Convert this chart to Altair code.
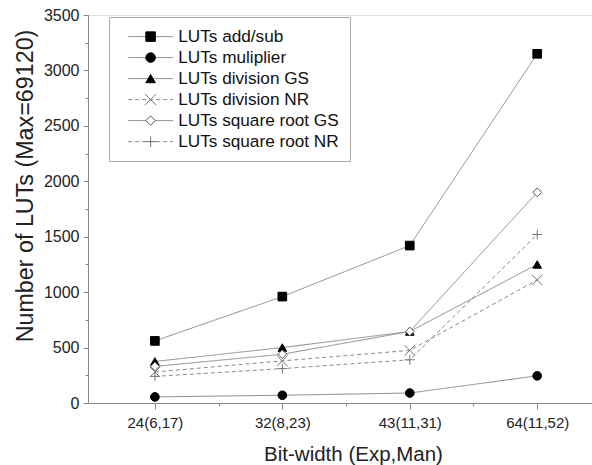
import json
import altair as alt
import pandas as pd

categories = ["24(6,17)", "32(8,23)", "43(11,31)", "64(11,52)"]
series_names = [
    "LUTs add/sub",
    "LUTs muliplier",
    "LUTs division GS",
    "LUTs division NR",
    "LUTs square root GS",
    "LUTs square root NR",
]
add_sub = [560, 960, 1420, 3150]
multiplier = [55, 70, 90, 245]
div_gs = [375, 500, 645, 1250]
div_nr = [280, 380, 475, 1110]
sqrt_gs = [330, 440, 645, 1900]
sqrt_nr = [240, 310, 390, 1520]

series_values = [add_sub, multiplier, div_gs, div_nr, sqrt_gs, sqrt_nr]
y_ticks = list(range(0, 3501, 500))
y_minor = list(range(0, 3501, 250))
x_minor = [0.5, 1.5, 2.5]

line_names = ["line " + n for n in series_names]

rows = []
for name, lname, vals in zip(series_names, line_names, series_values):
    for i, v in enumerate(vals):
        rows.append({"idx": i, "value": v, "series": name, "series_line": lname})
df = pd.DataFrame(rows)

shapes = [
    "square",
    "circle",
    "triangle-up",
    "M-1.2,-1.2L1.2,1.2M1.2,-1.2L-1.2,1.2",
    "diamond",
    "M-1.15,0L1.15,0M0,-1.15L0,1.15",
]
fills = ["black", "black", "black", "transparent", "white", "transparent"]
strokes = ["black", "black", "black", "#777777", "#555555", "#777777"]
dashes = [[1, 0], [1, 0], [1, 0], [4, 3], [1, 0], [4, 3]]

FONT = "Liberation Sans"
label_expr = json.dumps(categories) + "[datum.value]"

xscale = alt.Scale(domain=[-0.525, 3.43], nice=False, zero=False)
yscale = alt.Scale(domain=[0, 3500], nice=False)

axis_common = dict(grid=False, domainColor="#888888", tickColor="#888888",
                   labelFont=FONT, titleFont=FONT, labelColor="#222222",
                   titleColor="#222222")

x_main = alt.Axis(orient="bottom", values=[0, 1, 2, 3], labelExpr=label_expr,
                  tickSize=6, labelFontSize=15, labelPadding=6,
                  title="Bit-width (Exp,Man)", titleFontSize=20.5,
                  titleFontWeight="normal", titleX=265, titleY=57,
                  titleBaseline="alphabetic", **axis_common)
y_main = alt.Axis(orient="left", values=y_ticks, format="d", tickSize=5,
                  labelFontSize=16, labelPadding=4,
                  title="Number of LUTs (Max=69120)",
                  titleFontSize=23.3, titleFontWeight="normal",
                  titleX=-56, titleY=170.5, titleBaseline="alphabetic",
                  **axis_common)

x_min_axis = alt.Axis(orient="bottom", values=x_minor, tickSize=3, labels=False,
                      domain=False, grid=False, title=None, tickColor="#888888")
y_min_axis = alt.Axis(orient="left", values=y_minor, tickSize=3, labels=False,
                      domain=False, grid=False, title=None, tickColor="#888888")

base = alt.Chart(df)

minor = base.mark_point(opacity=0).encode(
    x=alt.X("idx:Q", scale=xscale, axis=x_min_axis),
    y=alt.Y("value:Q", scale=yscale, axis=y_min_axis),
)

legend_common = dict(orient="none", legendX=21, legendY=2, title=None,
                     padding=11, rowPadding=3, symbolSize=90, symbolOffset=22,
                     labelFont=FONT, labelFontSize=17.2, labelOffset=19,
                     labelColor="#111111", labelLimit=400)

lines = base.mark_line(color="#8a8a8a", strokeWidth=1).encode(
    x=alt.X("idx:Q", scale=xscale, axis=x_main),
    y=alt.Y("value:Q", scale=yscale, axis=y_main),
    strokeDash=alt.StrokeDash(
        "series_line:N",
        scale=alt.Scale(domain=line_names, range=dashes),
        legend=alt.Legend(symbolType="M-4.74,0L4.74,0", symbolStrokeColor="#8a8a8a",
                          symbolStrokeWidth=1, labelExpr="''", **legend_common),
    ),
    detail="series:N",
)

points = base.mark_point(size=75, opacity=1, strokeWidth=1, fillOpacity=1).encode(
    x=alt.X("idx:Q", scale=xscale, axis=None),
    y=alt.Y("value:Q", scale=yscale, axis=None),
    shape=alt.Shape("series:N", scale=alt.Scale(domain=series_names, range=shapes),
                    legend=alt.Legend(strokeColor="#aaaaaa", symbolStrokeWidth=1,
                                      **legend_common)),
    fill=alt.Fill("series:N", scale=alt.Scale(domain=series_names, range=fills)),
    stroke=alt.Stroke("series:N", scale=alt.Scale(domain=series_names, range=strokes)),
)

chart = alt.layer(minor, lines, points).resolve_axis(
    x="independent", y="independent"
).properties(
    width=504,
    height=388,
    autosize=alt.AutoSizeParams(type="none"),
    padding={"left": 88, "top": 15, "right": 0, "bottom": 62},
).configure_view(stroke=None).configure(background="white")

chart.save("out.html", embed_options={"renderer": "svg", "actions": False})
